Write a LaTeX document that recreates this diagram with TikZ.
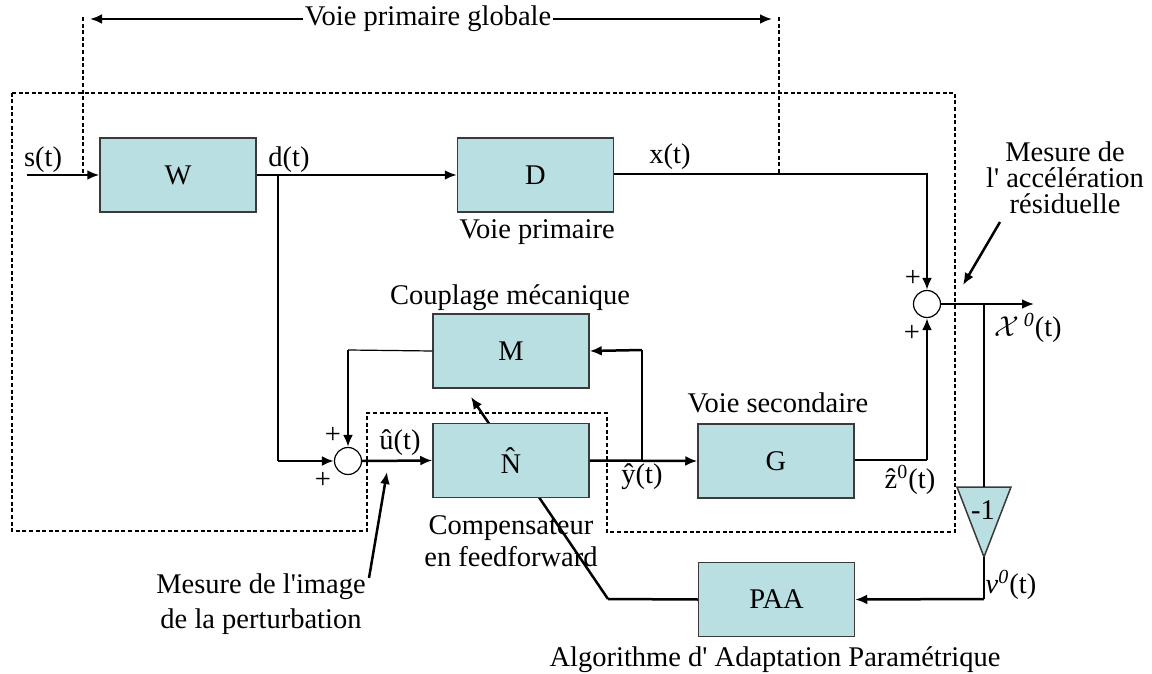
\documentclass[tikz,border=0pt]{standalone}
\usepackage{fontspec}
\setmainfont{Liberation Serif}[Ligatures=TeXOff]
\usetikzlibrary{arrows.meta}
\definecolor{boxfill}{HTML}{B9DFE3}
\definecolor{boxline}{HTML}{3A3A3A}
\pgfdeclarelayer{bg}
\pgfsetlayers{bg,main}

\begin{document}
\begin{tikzpicture}[x=0.5pt,y=-0.5pt,
  font=\fontsize{14.25}{16}\selectfont,
  blk/.style={draw=boxline,line width=0.75pt,fill=boxfill,
    minimum width=78pt,minimum height=37pt,inner sep=0pt},
  sumj/.style={circle,draw=black,line width=0.6pt,fill=white,
    minimum size=13.5pt,inner sep=0pt},
  thk/.style={line width=1.25pt},
  thn/.style={line width=0.6pt},
  arr/.style={-{Latex[length=6pt,width=5pt]}},
  dsh/.style={line width=0.85pt,dash pattern=on 2pt off 1.3pt},
  lbl/.style={inner sep=0pt}]

\useasboundingbox (0,0) rectangle (1152,674);

% blocks
\node[blk] (W) at (178,175) {W};
\node[blk] (D) at (535.5,175) {D};
\node[blk] (M) at (511,351) {M};
\node[blk] (N) at (511,460.5) {\^N};
\node[blk] (G) at (776,461) {G};
\node[blk] (PAA) at (776.5,599.5) {PAA};
\node[sumj] (S1) at (348,461) {};
\node[sumj] (S2) at (927,304) {};

% inverting gain
\coordinate (tritop) at (984,487);
\coordinate (triapex) at (984,557);
\draw[draw=boxline,line width=0.75pt,fill=boxfill]
  (957,487) -- (1011,487) -- (triapex) -- cycle;
\node[lbl] (gain) at (983,510) {-1};

% dashed boundaries
\draw[dsh] (12,93) -- (955,93) -- (955,532) -- (607,532) -- (607,413)
  -- (367,413) -- (367,531) -- (12,531) -- cycle;
\coordinate (gl) at (83,17);
\coordinate (glb) at (83,175);
\coordinate (gr) at (779,17);
\coordinate (grb) at (779,173);
\draw[dsh] (gl) -- (glb);
\draw[dsh] (gr) -- (grb);

% global primary path
\node[lbl,inner xsep=0.5pt] (vpg) at (428,19) {Voie primaire globale};
\coordinate (gltip) at (90,19);
\coordinate (grtip) at (772,19);
\draw[thk,arr] (vpg.west) -- (gltip);
\draw[thk,arr] (vpg.east) -- (grtip);

% signal paths
\coordinate (sin) at (27,175);
\draw[thk,arr] (sin) -- (W.west);
\draw[thk,arr] (W.east) -- (D.west);

\coordinate (dbr) at (278,175);
\coordinate (dcorner) at (278,461);
\draw[thn] (dbr) -- (dcorner);
\draw[thk,arr] (dcorner) -- (S1.west);

\coordinate (xcorner) at (927,174);
\coordinate (xmid) at (927,247);
\draw[thn] (D.east |- xcorner) -- (xcorner) -- (xmid);
\draw[thk,arr] (xmid) -- (S2.north);

\coordinate (mcorner) at (348,350);
\draw[thn] (M.west) -- (mcorner);
\draw[thk,arr] (mcorner) -- (S1.north);

\draw[thk,arr] (S1.east) -- (N.west);
\draw[thk,arr] (N.east) -- (G.west);

\coordinate (ybr) at (642,461);
\coordinate (ycorner) at (642,350);
\draw[thn] (ybr) -- (ycorner);
\draw[thk,arr] (ycorner) -- (M.east);

\coordinate (zcorner) at (927,460);
\draw[thn] (G.east |- zcorner) -- (zcorner);
\draw[thk,arr] (zcorner) -- (S2.south);

\coordinate (out) at (1034,304);
\draw[thk,arr] (S2.east) -- (out);

\coordinate (fbbr) at (984,304);
\draw[thk] (fbbr) -- (tritop);
\coordinate (vcorner) at (984,599);
\draw[thk] (triapex) -- (vcorner);
\draw[thk,arr] (vcorner) -- (PAA.east);

% adaptation arrow, passing behind the compensator
\coordinate (pcorner) at (608,599);
\coordinate (adtip) at (471,397);
\begin{pgfonlayer}{bg}
\draw[thk] (PAA.west) -- (pcorner);
\draw[thk,arr] (pcorner) -- (adtip);
\end{pgfonlayer}

% signal labels
\node[lbl] (ls) at (43,160) {s(t)};
\node[lbl] (ld) at (289,160) {d(t)};
\node[lbl] (lx) at (670,157) {x(t)};
\node[lbl] (lu) at (400,443) {\^u(t)};
\node[lbl] (ly) at (642,477) {\^y(t)};
\node[lbl] (lz) at (910,480) {\^z\textsuperscript{0}(t)};
\node[lbl] (lX) at (1028,328) {$\mathcal{X}$\,\textsuperscript{\itshape 0}(t)};
\node[lbl] (lv) at (1011,585) {\itshape v\textsuperscript{0}\upshape(t)};

% signs
\node[lbl] (p1) at (333,435) {+};
\node[lbl] (p2) at (323,480) {+};
\node[lbl] (p3) at (913,278) {+};
\node[lbl] (p4) at (912,333) {+};

% captions
\node[lbl] (cD) at (537,232) {Voie primaire};
\node[lbl] (cM) at (510,298) {Couplage mécanique};
\node[lbl] (cG) at (778,403) {Voie secondaire};
\node[lbl,align=center,font=\fontsize{14.25}{16}\selectfont] (cN) at (511,541)
  {Compensateur\\en feedforward};
\node[lbl] (cP) at (775,660) {Algorithme d' Adaptation Paramétrique};
\node[lbl,align=center,font=\fontsize{14.25}{17.5}\selectfont] (cimg) at (261,604)
  {Mesure de l'image\\de la perturbation};
\node[lbl,align=center,font=\fontsize{14.25}{13}\selectfont] (cacc) at (1065,178)
  {Mesure de\\l' accélération\\résiduelle};

% measurement pointers
\coordinate (acctail) at (1000,222);
\coordinate (acctip) at (963,285);
\draw[thk,arr] (acctail) -- (acctip);
\coordinate (imgtail) at (369,578);
\coordinate (imgtip) at (387,472);
\draw[thk,arr] (imgtail) -- (imgtip);

\end{tikzpicture}
\end{document}
